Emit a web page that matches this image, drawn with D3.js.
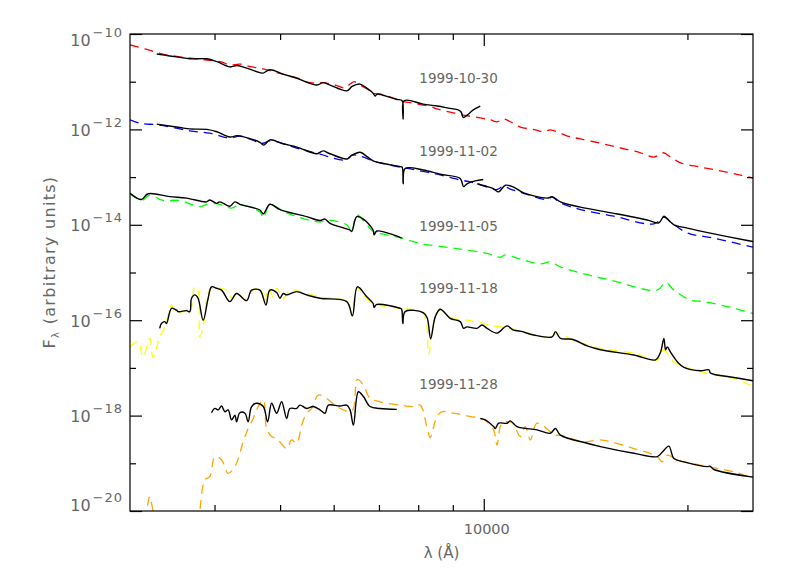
<!DOCTYPE html>
<html><head><meta charset="utf-8">
<script src="https://cdn.jsdelivr.net/npm/d3@7/dist/d3.min.js"></script>
<style>
body{margin:0;background:#fff}
text{font-family:"DejaVu Sans",sans-serif;fill:#666}
</style>
</head><body>
<svg id="chart" width="789" height="581"></svg>
<script>
// ---- data: [wavelength (Å), log10 F_lambda] ----
const dates = ["1999-10-30","1999-11-02","1999-11-05","1999-11-18","1999-11-28"];
const xMajorTicks = [10000];
const xMinorTicks = [4000,5000,6000,7000,8000,9000,20000];
const yMajorExp = [-10,-12,-14,-16,-18,-20];
const yMinorExp = [-11,-13,-15,-17,-19];

const model1030 = [[3000,-10.23],[3155,-10.31],[3354,-10.42],[3554,-10.48],[3766,-10.52],[3936,-10.55],[4101,-10.59],[4214,-10.65],[4360,-10.63],[4542,-10.69],[4716,-10.73],[4913,-10.80],[5170,-10.88],[5350,-10.94],[5480,-11.01],[5669,-11.03],[5787,-11.02],[6029,-11.07],[6238,-11.13],[6344,-11.05],[6432,-11.00],[6564,-11.07],[6723,-11.15],[6862,-11.24],[7027,-11.26],[7270,-11.32],[7522,-11.40],[7864,-11.45],[8332,-11.52],[8534,-11.57],[8920,-11.64],[9326,-11.70],[9881,-11.76],[10223,-11.80],[10472,-11.84],[10688,-11.78],[10945,-11.84],[11324,-11.95],[11920,-12.01],[12249,-12.05],[12544,-12.01],[12979,-12.08],[13294,-12.14],[13894,-12.20],[14875,-12.29],[15924,-12.39],[17047,-12.49],[17822,-12.58],[18128,-12.54],[18440,-12.49],[18883,-12.58],[19538,-12.70],[20916,-12.79],[22392,-12.87],[23972,-12.96],[25000,-13.02]];
const obs1030 = [[3286,-10.42],[3435,-10.46],[3554,-10.49],[3677,-10.52],[3896,-10.52],[4032,-10.58],[4214,-10.69],[4316,-10.66],[4405,-10.69],[4668,-10.81],[4716,-10.82],[4829,-10.75],[5049,-10.84],[5296,-10.93],[5669,-11.07],[5787,-11.02],[5926,-11.07],[6280,-11.19],[6388,-11.10],[6564,-11.05],[6723,-11.14],[6862,-11.24],[6909,-11.30],[6956,-11.26],[7270,-11.33],[7446,-11.37],[7574,-11.40],[7600,-11.78],[7626,-11.40],[8137,-11.47],[8534,-11.51],[8920,-11.56],[9168,-11.59],[9262,-11.64],[9326,-11.75],[9454,-11.70],[9649,-11.59],[9881,-11.51]];

const model1102 = [[3000,-11.80],[3101,-11.87],[3319,-11.91],[3677,-12.03],[3936,-12.08],[4214,-12.18],[4360,-12.14],[4716,-12.29],[4829,-12.24],[5350,-12.41],[5727,-12.52],[6238,-12.64],[6388,-12.54],[6564,-12.56],[6862,-12.66],[7027,-12.70],[7522,-12.79],[7864,-12.84],[8534,-12.94],[9230,-13.06],[9550,-13.10],[9782,-13.14],[10120,-13.21],[10461,-13.26],[10699,-13.19],[10945,-13.25],[11454,-13.34],[12405,-13.47],[12618,-13.42],[12979,-13.54],[13894,-13.68],[15566,-13.82],[17841,-13.98],[18459,-13.84],[18883,-13.94],[19992,-14.17],[21890,-14.28],[25000,-14.47]];
const obs1102opt = [[3286,-11.89],[3554,-11.96],[3677,-11.99],[3896,-12.00],[4032,-12.05],[4214,-12.16],[4316,-12.13],[4405,-12.15],[4668,-12.27],[4732,-12.33],[4829,-12.22],[5049,-12.30],[5296,-12.37],[5669,-12.51],[5787,-12.45],[5926,-12.51],[6280,-12.62],[6388,-12.54],[6564,-12.48],[6723,-12.57],[6862,-12.66],[7027,-12.70],[7522,-12.78],[7574,-12.79],[7600,-13.14],[7652,-12.82],[8137,-12.85],[8621,-12.94],[9230,-13.03],[9336,-13.20],[9443,-13.14],[9710,-13.08],[9984,-13.05]];
const obs1102ir = [[9782,-13.14],[10120,-13.20],[10330,-13.24],[10518,-13.31],[10762,-13.17],[11070,-13.21],[11454,-13.33],[12405,-13.44],[12618,-13.41],[12979,-13.52],[13894,-13.63],[15566,-13.76],[17444,-13.90],[18146,-13.96],[18459,-13.82],[18693,-13.88],[18883,-13.94],[19099,-14.00],[19992,-14.07],[21890,-14.19],[24529,-14.33],[25000,-14.35]];

const model1105 = [[3000,-13.34],[3119,-13.49],[3208,-13.38],[3357,-13.49],[3554,-13.49],[3804,-13.62],[3936,-13.55],[4073,-13.57],[4239,-13.65],[4360,-13.58],[4668,-13.73],[4722,-13.86],[4829,-13.58],[5113,-13.75],[5727,-13.94],[5860,-13.90],[6274,-14.00],[6381,-14.14],[6491,-13.79],[6716,-14.00],[6862,-14.14],[7190,-14.21],[7566,-14.28],[8053,-14.39],[9022,-14.49],[10110,-14.60],[10578,-14.68],[10762,-14.63],[11324,-14.72],[12123,-14.82],[12544,-14.78],[12979,-14.88],[13894,-15.01],[15390,-15.16],[18048,-15.37],[18567,-15.21],[19099,-15.37],[20215,-15.58],[21156,-15.61],[23433,-15.75],[25000,-15.86]];
const obs1105 = [[3000,-13.34],[3119,-13.47],[3190,-13.35],[3435,-13.41],[3636,-13.44],[3892,-13.52],[3936,-13.48],[4028,-13.55],[4073,-13.52],[4214,-13.61],[4287,-13.52],[4360,-13.57],[4668,-13.69],[4722,-13.77],[4829,-13.57],[4997,-13.68],[5474,-13.83],[5727,-13.91],[5826,-13.88],[5926,-13.97],[6344,-14.11],[6381,-14.14],[6491,-13.83],[6639,-13.88],[6862,-14.11],[6885,-14.21],[6948,-14.13],[7353,-14.21],[7566,-14.28]];

const model1118 = [[3000,-16.56],[3083,-16.45],[3136,-16.78],[3208,-16.38],[3245,-16.78],[3319,-16.35],[3377,-16.14],[3455,-15.68],[3474,-15.75],[3534,-15.86],[3636,-15.79],[3677,-15.86],[3741,-15.30],[3782,-15.37],[3804,-16.35],[3848,-16.14],[3914,-15.44],[3981,-15.30],[4073,-15.33],[4167,-15.37],[4239,-15.54],[4312,-15.44],[4461,-15.58],[4563,-15.37],[4668,-15.33],[4749,-15.65],[4802,-15.33],[4884,-15.51],[4942,-15.33],[5054,-15.54],[5170,-15.37],[5350,-15.40],[5727,-15.51],[6274,-15.61],[6381,-15.86],[6491,-15.33],[6639,-15.47],[6862,-15.65],[7522,-15.75],[8137,-15.86],[8285,-16.73],[8427,-16.07],[8621,-15.79],[9022,-15.96],[9444,-16.00],[9994,-16.07],[10578,-16.14],[10945,-16.17],[11851,-16.31],[12618,-16.35],[12835,-16.27],[13582,-16.42],[14875,-16.59],[16664,-16.69],[18048,-16.83],[18459,-16.62],[19099,-16.87],[20916,-17.08],[23433,-17.22],[25000,-17.39]];
const obs1118 = [[3319,-16.17],[3339,-16.07],[3377,-16.03],[3397,-16.07],[3455,-15.75],[3515,-15.79],[3534,-15.82],[3636,-15.80],[3677,-15.82],[3699,-15.54],[3741,-15.47],[3782,-15.54],[3848,-16.00],[3914,-15.54],[3959,-15.30],[4028,-15.33],[4097,-15.37],[4214,-15.61],[4312,-15.44],[4461,-15.59],[4538,-15.37],[4668,-15.37],[4765,-15.68],[4829,-15.37],[4942,-15.42],[4997,-15.54],[5054,-15.44],[5113,-15.47],[5291,-15.40],[5474,-15.47],[5727,-15.54],[6274,-15.61],[6395,-15.91],[6505,-15.30],[6716,-15.51],[6862,-15.65],[6885,-15.73],[6948,-15.67],[7522,-15.75],[7561,-15.77],[7592,-16.07],[7652,-15.82],[8137,-15.84],[8248,-15.95],[8347,-16.39],[8477,-15.93],[8621,-15.77],[8920,-15.96],[9230,-16.03],[9336,-16.17],[9444,-16.14],[9772,-16.17],[9939,-16.10],[10110,-16.17],[10461,-16.27],[10824,-16.12],[11070,-16.21],[11324,-16.23],[11851,-16.31],[12618,-16.35],[12762,-16.24],[12979,-16.38],[13508,-16.40],[14217,-16.54],[14875,-16.62],[16664,-16.73],[17945,-16.83],[18250,-16.67],[18459,-16.38],[18567,-16.62],[18674,-16.56],[18883,-16.67],[19322,-16.87],[19761,-16.99],[20916,-17.06],[21519,-17.04],[21642,-17.11],[23433,-17.20],[25000,-17.27]];

const model1128 = [[3110,-20.5],[3144,-20.19],[3173,-20.00],[3208,-19.70],[3245,-20.00],[3275,-20.19],[3554,-20.61],[3782,-20.19],[3804,-20.00],[3870,-19.35],[3936,-19.28],[4005,-18.86],[4097,-18.93],[4190,-19.21],[4287,-19.07],[4410,-18.55],[4485,-18.27],[4563,-18.06],[4641,-17.81],[4722,-17.67],[4776,-18.27],[4858,-18.44],[4942,-18.48],[5113,-18.69],[5201,-18.51],[5291,-18.58],[5381,-18.20],[5474,-17.95],[5568,-17.85],[5694,-17.57],[5860,-17.64],[6063,-17.81],[6344,-17.92],[6417,-17.85],[6505,-17.24],[6639,-17.36],[6791,-17.64],[7027,-17.71],[7190,-17.74],[7522,-17.78],[7872,-17.81],[8053,-17.78],[8240,-18.23],[8332,-18.46],[8526,-18.02],[8672,-17.92],[9022,-17.95],[9550,-18.02],[9994,-18.08],[10340,-18.30],[10461,-18.62],[10640,-18.16],[11009,-18.15],[11324,-18.44],[11520,-18.23],[11717,-18.51],[11989,-18.16],[12544,-18.34],[12688,-18.41],[12979,-18.41],[14053,-18.55],[14875,-18.51],[16664,-18.69],[18048,-18.86],[18358,-18.97],[18674,-18.83],[19322,-18.93],[20916,-19.04],[23433,-19.18],[25000,-19.31]];
const obs1128opt = [[3959,-17.94],[4005,-17.85],[4050,-17.88],[4097,-17.80],[4143,-17.92],[4190,-17.88],[4239,-18.09],[4287,-17.99],[4312,-18.13],[4360,-17.94],[4436,-17.95],[4485,-18.13],[4538,-17.81],[4616,-17.74],[4722,-17.81],[4792,-18.13],[4858,-17.74],[4942,-17.95],[5026,-17.71],[5113,-18.06],[5170,-17.85],[5291,-17.85],[5350,-17.78],[5474,-17.85],[5598,-17.81],[5727,-17.88],[5826,-17.95],[5892,-17.78],[6131,-17.80],[6274,-17.78],[6344,-17.88],[6417,-18.20],[6527,-17.50],[6639,-17.60],[6791,-17.81],[7027,-17.85],[7439,-17.87]];
const obs1128ir = [[9881,-18.06],[10052,-18.09],[10340,-18.23],[10400,-18.27],[10518,-18.16],[10824,-18.16],[10945,-18.11],[11199,-18.23],[11989,-18.30],[12544,-18.37],[12762,-18.27],[12979,-18.41],[14217,-18.58],[14875,-18.65],[16664,-18.79],[18048,-18.86],[18377,-18.76],[18775,-18.64],[19099,-18.90],[19761,-18.97],[21402,-19.07],[21591,-19.06],[21890,-19.13],[25000,-19.29]];

// ---- drawing ----
const L = 130, R = 753, T = 34, B = 511;
const svg = d3.select("#chart");
const x = d3.scaleLog().domain([3000, 25000]).range([L, R]);
const y = d3.scaleLog().domain([1e-20, 1e-10]).range([B, T]);

svg.append("defs").append("clipPath").attr("id","clip")
  .append("rect").attr("x",L).attr("y",T).attr("width",R-L).attr("height",B-T);

const line = d3.line().curve(d3.curveCatmullRom.alpha(0.5))
  .x(d => x(d[0])).y(d => y(Math.pow(10, d[1])));
const plot = svg.append("g").attr("clip-path","url(#clip)");

const series = [
  {d:model1030, c:"#ff0000", dash:true},
  {d:obs1030, c:"#000", dash:false},
  {d:model1102, c:"#0000ff", dash:true},
  {d:obs1102opt, c:"#000", dash:false},
  {d:obs1102ir, c:"#000", dash:false},
  {d:model1105, c:"#00ff00", dash:true},
  {d:obs1105, c:"#000", dash:false},
  {d:model1118, c:"#ffff00", dash:true},
  {d:obs1118, c:"#000", dash:false},
  {d:model1128, c:"#ffa500", dash:true},
  {d:obs1128opt, c:"#000", dash:false},
  {d:obs1128ir, c:"#000", dash:false}
];
series.forEach(s => {
  plot.append("path").datum(s.d)
    .attr("fill","none").attr("stroke",s.c)
    .attr("stroke-width", s.dash ? 1.3 : 1.4)
    .attr("stroke-dasharray", s.dash ? "9,6" : null)
    .attr("stroke-linejoin","round")
    .attr("d", line);
});

// frame
svg.append("rect").attr("x",L).attr("y",T).attr("width",R-L).attr("height",B-T)
  .attr("fill","none").attr("stroke","#000").attr("stroke-width",1.2);

// axes ticks (inward)
function tickAxis(axisGen, vals, len, transform) {
  const g = svg.append("g").attr("transform", transform)
    .call(axisGen.tickValues(vals).tickSizeInner(-len).tickSizeOuter(0).tickFormat(""));
  g.select(".domain").remove();
  g.selectAll(".tick line").attr("stroke","#000").attr("stroke-width",1.2);
  return g;
}
tickAxis(d3.axisBottom(x), xMajorTicks, 12, `translate(0,${B})`);
tickAxis(d3.axisBottom(x), xMinorTicks, 6, `translate(0,${B})`);
tickAxis(d3.axisTop(x), xMajorTicks, 12, `translate(0,${T})`);
tickAxis(d3.axisTop(x), xMinorTicks, 6, `translate(0,${T})`);
const yMaj = yMajorExp.map(e => Math.pow(10, e));
const yMin = yMinorExp.map(e => Math.pow(10, e));
tickAxis(d3.axisLeft(y), yMaj, 12, `translate(${L},0)`);
tickAxis(d3.axisLeft(y), yMin, 6, `translate(${L},0)`);
tickAxis(d3.axisRight(y), yMaj, 12, `translate(${R},0)`);
tickAxis(d3.axisRight(y), yMin, 6, `translate(${R},0)`);

// x tick labels
svg.selectAll(".xlab").data(xMajorTicks).enter().append("text")
  .attr("x", d => x(d) + 3).attr("y", 534)
  .attr("text-anchor","middle").attr("font-size",14.5)
  .text(d => d);

// y tick labels (10^exp)
yMajorExp.forEach(e => {
  const ty = y(Math.pow(10, e));
  const base = Math.max(46, Math.min(511, ty + 6.5));
  const t = svg.append("text").attr("x", 123).attr("y", base)
    .attr("text-anchor","end").attr("font-size",16);
  t.append("tspan").text("10");
  t.append("tspan").attr("dy",-9).attr("dx",2).attr("font-size",13)
    .attr("letter-spacing",1).text("\u2212" + Math.abs(e));
});

// axis titles
svg.append("text").attr("x", (L+R)/2).attr("y", 558)
  .attr("text-anchor","middle").attr("font-size",15).text("λ  (Å)");
const yt = svg.append("text").attr("transform",`translate(55,262) rotate(-90)`)
  .attr("text-anchor","middle").attr("font-size",16).attr("letter-spacing",1.3);
yt.append("tspan").text("F");
yt.append("tspan").attr("font-size",10).attr("dy",4).text("λ");
yt.append("tspan").attr("dy",-4).text(" (arbitrary units)");

// date labels
const labelPos = [-11.03, -12.56, -14.12, -15.42, -17.44];
dates.forEach((d, i) => {
  svg.append("text").attr("x", x(8030)).attr("y", y(Math.pow(10, labelPos[i])))
    .attr("font-size",13.5).text(d);
});
</script>
</body></html>
